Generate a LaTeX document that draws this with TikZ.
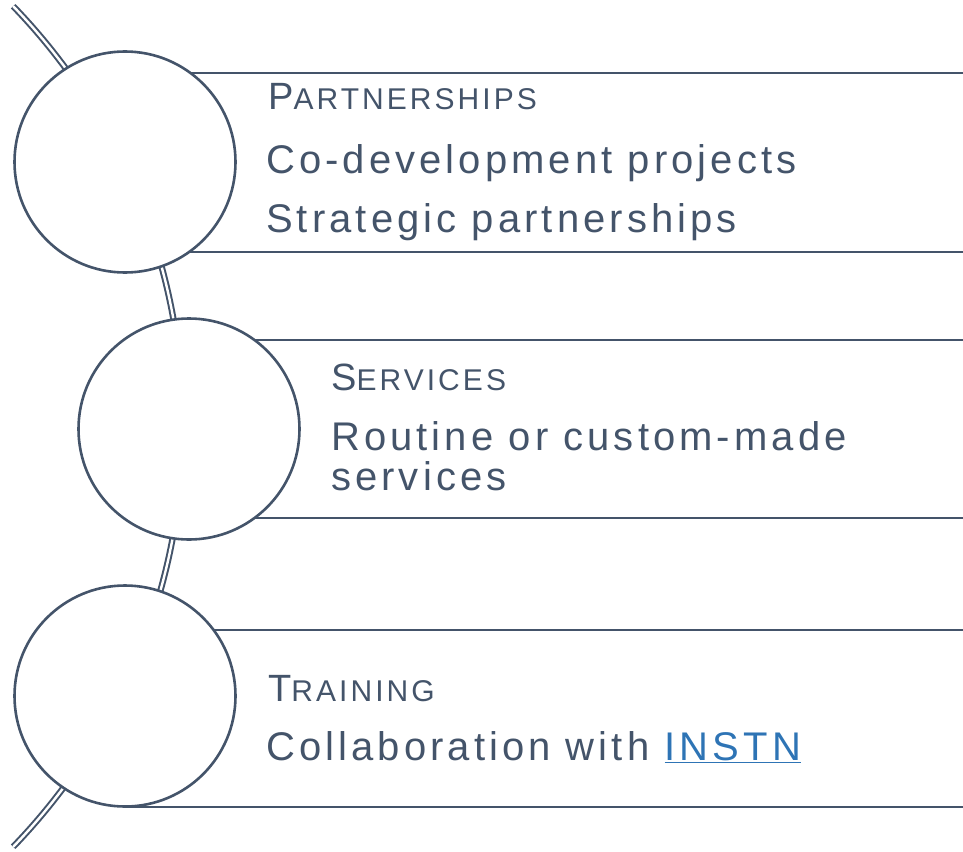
\documentclass[tikz,border=0pt]{standalone}
\usepackage{fontspec}
\setmainfont{Liberation Sans}[LetterSpace=10.2]
\definecolor{slate}{HTML}{44546A}
\definecolor{linkblue}{HTML}{2E74B5}
\newcommand{\fakesc}[2]{{\fontsize{38}{42}\selectfont #1}{\fontsize{30}{34}\selectfont #2}}

\begin{document}
\begin{tikzpicture}[x=1pt,y=-1pt]
		\tikzstyle{band_line} = [draw=slate, line width=2.6];
		\tikzstyle{step_circle} = [draw=slate, line width=2.6, circle, fill=white, minimum size=221, inner sep=0];
		\tikzstyle{head_text} = [text=slate, anchor=base west, inner sep=0];
		\tikzstyle{body_text} = [text=slate, anchor=base west, inner sep=0, font=\fontsize{40}{48}\selectfont];

		\useasboundingbox (0,0) rectangle (963,851);

		\coordinate (hub) at (-422,426.5);
		\draw[slate, line width=2, double=white, double distance=2.4] (hub) ++(-44:605) arc[start angle=-44, end angle=44, radius=605];

		\foreach \y/\x in {73/125, 252/125, 340/189, 518/189, 630/125, 807/125}{%
			\draw[band_line] (\x,\y) -- (963,\y);
		}

		\node[step_circle] (partners) at (125,162) {};
		\node[step_circle] (services) at (189,429) {};
		\node[step_circle] (training) at (125,696) {};

		\node[head_text] (partnersHead) at (268,109) {\fakesc{P}{ARTNERSHIPS}};
		\node[body_text] (partnersA) at (266,173) {Co-development projects};
		\node[body_text] (partnersB) at (266,232) {Strategic partnerships};

		\node[head_text] (servicesHead) at (331,390) {\fakesc{S}{ERVICES}};
		\node[body_text] (servicesA) at (331,450) {Routine or custom-made};
		\node[body_text] (servicesB) at (331,490) {services};

		\node[head_text] (trainingHead) at (268,701) {\fakesc{T}{RAINING}};
		\node[body_text] (trainingA) at (266,760) {Collaboration with \textcolor{linkblue}{\underline{INSTN}}};
	\end{tikzpicture}
\end{document}
